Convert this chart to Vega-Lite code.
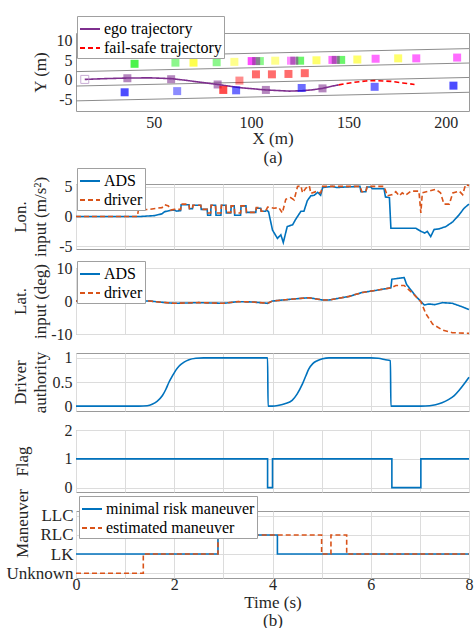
{
"$schema":"https://vega.github.io/schema/vega-lite/v6.json",
"background":"white",
"padding":{"left":5,"top":15,"right":6,"bottom":0},
"bounds":"flush",
"spacing":19,
"datasets":{
"spacer":[],
"lanes":[{"lane":1,"x":10,"y":5.8},{"lane":1,"x":212,"y":8.0},{"lane":2,"x":10,"y":2.1},{"lane":2,"x":212,"y":4.3},{"lane":3,"x":10,"y":-1.6},{"lane":3,"x":212,"y":0.6},{"lane":4,"x":10,"y":-5.4},{"lane":4,"x":212,"y":-3.2}],
"traj":[{"traj":"ego trajectory","x":14.5,"y":0.1},{"traj":"ego trajectory","x":25,"y":0.3},{"traj":"ego trajectory","x":36.4,"y":0.45},{"traj":"ego trajectory","x":48,"y":0.5},{"traj":"ego trajectory","x":58.9,"y":0.3},{"traj":"ego trajectory","x":66,"y":-0.1},{"traj":"ego trajectory","x":73.5,"y":-0.6},{"traj":"ego trajectory","x":82.8,"y":-1.2},{"traj":"ego trajectory","x":94,"y":-2.0},{"traj":"ego trajectory","x":107.6,"y":-2.6},{"traj":"ego trajectory","x":119.6,"y":-2.9},{"traj":"ego trajectory","x":126,"y":-2.8},{"traj":"ego trajectory","x":131,"y":-2.6},{"traj":"ego trajectory","x":136.7,"y":-2.2},{"traj":"ego trajectory","x":141,"y":-1.7},{"traj":"ego trajectory","x":145,"y":-1.3},
{"traj":"fail-safe trajectory","x":145,"y":-1.3},{"traj":"fail-safe trajectory","x":152,"y":-0.7},{"traj":"fail-safe trajectory","x":159,"y":-0.3},{"traj":"fail-safe trajectory","x":164,"y":-0.2},{"traj":"fail-safe trajectory","x":172,"y":-0.4},{"traj":"fail-safe trajectory","x":178,"y":-0.8},{"traj":"fail-safe trajectory","x":184,"y":-1.2}],
"veh":[{"v":"ego0","x":14.5,"y":0.1,"lvl":1},{"v":"ego","x":36.4,"y":0.4,"lvl":2},{"v":"ego","x":58.9,"y":0.15,"lvl":2},{"v":"ego","x":82.8,"y":-1.2,"lvl":2},{"v":"ego","x":107.6,"y":-2.6,"lvl":2},{"v":"ego","x":136.7,"y":-2.2,"lvl":2},
{"v":"blue","x":35,"y":-3.2,"lvl":3},{"v":"blue","x":62,"y":-2.9,"lvl":1},{"v":"blue","x":92.3,"y":-2.7,"lvl":2},{"v":"blue","x":126,"y":-2.1,"lvl":2},{"v":"blue","x":163.5,"y":-1.8,"lvl":2},{"v":"blue","x":204,"y":-1.5,"lvl":3},
{"v":"red","x":85.7,"y":-2.6,"lvl":3},{"v":"red","x":94,"y":-0.2,"lvl":1},{"v":"red","x":102.5,"y":1.4,"lvl":2},{"v":"red","x":110.7,"y":1.4,"lvl":2},{"v":"red","x":119.2,"y":1.5,"lvl":2},{"v":"red","x":127.6,"y":1.7,"lvl":2},
{"v":"green","x":40.1,"y":4.1,"lvl":3},{"v":"green","x":61.1,"y":4.4,"lvl":1},{"v":"yellow","x":70.4,"y":4.4,"lvl":3},{"v":"green","x":82.3,"y":4.5,"lvl":1},{"v":"yellow","x":91.4,"y":4.6,"lvl":1},{"v":"magenta","x":100.3,"y":4.8,"lvl":3},{"v":"green","x":104.5,"y":4.8,"lvl":1},{"v":"ego","x":102.6,"y":4.8,"lvl":2},{"v":"yellow","x":112.4,"y":4.9,"lvl":1},{"v":"magenta","x":120.5,"y":4.9,"lvl":1},{"v":"green","x":125.2,"y":4.9,"lvl":2},{"v":"ego","x":122.2,"y":4.9,"lvl":2},{"v":"yellow","x":133.6,"y":5.0,"lvl":2},{"v":"magenta","x":141.8,"y":5.1,"lvl":2},{"v":"green","x":146.3,"y":5.1,"lvl":2},{"v":"ego","x":143.5,"y":5.1,"lvl":2},{"v":"yellow","x":154.6,"y":5.2,"lvl":2},{"v":"magenta","x":164,"y":5.4,"lvl":2},{"v":"yellow","x":175.6,"y":5.5,"lvl":2},{"v":"magenta","x":184.9,"y":5.5,"lvl":2},{"v":"magenta","x":205.9,"y":5.7,"lvl":2}],
"lon":[{"s":"ADS","t":0,"v":0},{"s":"ADS","t":1.3,"v":0},{"s":"ADS","t":1.6,"v":0.15},{"s":"ADS","t":1.75,"v":0.45},{"s":"ADS","t":1.8,"v":0.8},{"s":"ADS","t":1.9,"v":1.0},{"s":"ADS","t":2.0,"v":1.1},{"s":"ADS","t":2.05,"v":0.9},{"s":"ADS","t":2.13,"v":1.0},{"s":"ADS","t":2.14,"v":2.0},{"s":"ADS","t":2.3,"v":2.0},{"s":"ADS","t":2.31,"v":1.3},{"s":"ADS","t":2.37,"v":1.3},{"s":"ADS","t":2.38,"v":1.9},{"s":"ADS","t":2.54,"v":1.9},{"s":"ADS","t":2.55,"v":1.2},{"s":"ADS","t":2.67,"v":1.2},{"s":"ADS","t":2.68,"v":0.2},{"s":"ADS","t":2.74,"v":0.2},{"s":"ADS","t":2.75,"v":1.9},{"s":"ADS","t":2.84,"v":1.9},{"s":"ADS","t":2.85,"v":0.2},{"s":"ADS","t":2.95,"v":0.2},{"s":"ADS","t":2.96,"v":1.9},{"s":"ADS","t":3.05,"v":1.9},{"s":"ADS","t":3.06,"v":0.6},{"s":"ADS","t":3.15,"v":0.6},{"s":"ADS","t":3.16,"v":1.8},{"s":"ADS","t":3.22,"v":1.8},{"s":"ADS","t":3.23,"v":0.2},{"s":"ADS","t":3.35,"v":0.2},{"s":"ADS","t":3.36,"v":1.8},{"s":"ADS","t":3.46,"v":1.8},{"s":"ADS","t":3.47,"v":0.7},{"s":"ADS","t":3.66,"v":0.7},{"s":"ADS","t":3.67,"v":1.4},{"s":"ADS","t":3.76,"v":1.4},{"s":"ADS","t":3.77,"v":0.9},{"s":"ADS","t":3.86,"v":0.9},{"s":"ADS","t":3.88,"v":1.1},{"s":"ADS","t":3.92,"v":0.8},{"s":"ADS","t":4.0,"v":-2.3},{"s":"ADS","t":4.1,"v":-3.7},{"s":"ADS","t":4.17,"v":-3.1},{"s":"ADS","t":4.22,"v":-4.4},{"s":"ADS","t":4.3,"v":-1.7},{"s":"ADS","t":4.41,"v":-1.4},{"s":"ADS","t":4.47,"v":-0.5},{"s":"ADS","t":4.58,"v":0.9},{"s":"ADS","t":4.64,"v":0.9},{"s":"ADS","t":4.71,"v":2.7},{"s":"ADS","t":4.78,"v":3.5},{"s":"ADS","t":4.85,"v":3.6},{"s":"ADS","t":4.92,"v":4.1},{"s":"ADS","t":4.98,"v":3.6},{"s":"ADS","t":5.02,"v":4.9},{"s":"ADS","t":5.22,"v":5.1},{"s":"ADS","t":5.3,"v":4.9},{"s":"ADS","t":5.5,"v":5.0},{"s":"ADS","t":5.78,"v":5.1},{"s":"ADS","t":5.8,"v":4.2},{"s":"ADS","t":5.9,"v":4.2},{"s":"ADS","t":5.92,"v":5.0},{"s":"ADS","t":6.0,"v":5.0},{"s":"ADS","t":6.03,"v":4.7},{"s":"ADS","t":6.27,"v":4.7},{"s":"ADS","t":6.3,"v":3.3},{"s":"ADS","t":6.38,"v":3.2},{"s":"ADS","t":6.41,"v":-2.0},{"s":"ADS","t":6.92,"v":-2.0},{"s":"ADS","t":7.02,"v":-2.5},{"s":"ADS","t":7.1,"v":-2.8},{"s":"ADS","t":7.15,"v":-2.5},{"s":"ADS","t":7.22,"v":-3.4},{"s":"ADS","t":7.29,"v":-2.2},{"s":"ADS","t":7.39,"v":-2.1},{"s":"ADS","t":7.53,"v":-1.7},{"s":"ADS","t":7.67,"v":-0.9},{"s":"ADS","t":7.8,"v":0.3},{"s":"ADS","t":7.9,"v":1.4},{"s":"ADS","t":8.0,"v":2.1},
{"s":"driver","t":0,"v":0},{"s":"driver","t":1.25,"v":0},{"s":"driver","t":1.27,"v":1.1},{"s":"driver","t":1.5,"v":1.2},{"s":"driver","t":1.65,"v":1.4},{"s":"driver","t":1.75,"v":1.5},{"s":"driver","t":1.8,"v":2.0},{"s":"driver","t":1.88,"v":1.8},{"s":"driver","t":1.93,"v":1.1},{"s":"driver","t":2.0,"v":1.2},{"s":"driver","t":2.13,"v":1.2},{"s":"driver","t":2.14,"v":2.1},{"s":"driver","t":2.3,"v":2.1},{"s":"driver","t":2.31,"v":1.3},{"s":"driver","t":2.37,"v":1.3},{"s":"driver","t":2.38,"v":1.9},{"s":"driver","t":2.54,"v":1.9},{"s":"driver","t":2.55,"v":1.2},{"s":"driver","t":2.67,"v":1.2},{"s":"driver","t":2.68,"v":0.6},{"s":"driver","t":2.74,"v":0.6},{"s":"driver","t":2.75,"v":1.9},{"s":"driver","t":2.84,"v":1.9},{"s":"driver","t":2.85,"v":0.6},{"s":"driver","t":2.95,"v":0.6},{"s":"driver","t":2.96,"v":1.9},{"s":"driver","t":3.05,"v":1.9},{"s":"driver","t":3.06,"v":0.7},{"s":"driver","t":3.15,"v":0.7},{"s":"driver","t":3.16,"v":1.8},{"s":"driver","t":3.22,"v":1.8},{"s":"driver","t":3.23,"v":0.6},{"s":"driver","t":3.35,"v":0.6},{"s":"driver","t":3.36,"v":1.8},{"s":"driver","t":3.46,"v":1.8},{"s":"driver","t":3.47,"v":0.7},{"s":"driver","t":3.66,"v":0.7},{"s":"driver","t":3.67,"v":1.5},{"s":"driver","t":3.76,"v":1.5},{"s":"driver","t":3.77,"v":0.9},{"s":"driver","t":3.86,"v":0.9},{"s":"driver","t":3.9,"v":1.6},{"s":"driver","t":4.03,"v":1.4},{"s":"driver","t":4.13,"v":1.5},{"s":"driver","t":4.2,"v":0.6},{"s":"driver","t":4.27,"v":2.9},{"s":"driver","t":4.37,"v":3.2},{"s":"driver","t":4.44,"v":2.8},{"s":"driver","t":4.51,"v":5.1},{"s":"driver","t":4.58,"v":5.2},{"s":"driver","t":4.61,"v":4.0},{"s":"driver","t":4.68,"v":4.8},{"s":"driver","t":4.75,"v":5.2},{"s":"driver","t":4.78,"v":3.9},{"s":"driver","t":4.88,"v":4.2},{"s":"driver","t":4.98,"v":4.0},{"s":"driver","t":5.02,"v":5.1},{"s":"driver","t":5.78,"v":5.1},{"s":"driver","t":5.82,"v":4.2},{"s":"driver","t":5.9,"v":4.2},{"s":"driver","t":5.93,"v":5.1},{"s":"driver","t":6.27,"v":5.1},{"s":"driver","t":6.34,"v":3.5},{"s":"driver","t":6.44,"v":3.7},{"s":"driver","t":6.51,"v":4.2},{"s":"driver","t":6.58,"v":3.5},{"s":"driver","t":6.64,"v":4.0},{"s":"driver","t":6.71,"v":3.6},{"s":"driver","t":6.82,"v":4.3},{"s":"driver","t":6.98,"v":4.3},{"s":"driver","t":7.02,"v":0.6},{"s":"driver","t":7.05,"v":4.0},{"s":"driver","t":7.19,"v":4.3},{"s":"driver","t":7.32,"v":4.6},{"s":"driver","t":7.42,"v":4.0},{"s":"driver","t":7.49,"v":2.1},{"s":"driver","t":7.6,"v":2.1},{"s":"driver","t":7.67,"v":4.0},{"s":"driver","t":7.8,"v":4.3},{"s":"driver","t":7.87,"v":3.7},{"s":"driver","t":7.93,"v":5.4},{"s":"driver","t":8.0,"v":5.2}],
"lat":[{"s":"ADS","t":0,"v":0},{"s":"ADS","t":1.5,"v":0},{"s":"ADS","t":1.75,"v":-0.4},{"s":"ADS","t":2.0,"v":-0.7},{"s":"ADS","t":2.5,"v":-0.5},{"s":"ADS","t":3.0,"v":-0.7},{"s":"ADS","t":3.3,"v":-0.2},{"s":"ADS","t":3.6,"v":-0.3},{"s":"ADS","t":3.9,"v":-0.7},{"s":"ADS","t":4.0,"v":0},{"s":"ADS","t":4.35,"v":0.5},{"s":"ADS","t":4.74,"v":1.0},{"s":"ADS","t":5.02,"v":0.3},{"s":"ADS","t":5.15,"v":0.3},{"s":"ADS","t":5.56,"v":1.4},{"s":"ADS","t":5.83,"v":2.6},{"s":"ADS","t":6.1,"v":3.2},{"s":"ADS","t":6.41,"v":4.0},{"s":"ADS","t":6.43,"v":6.6},{"s":"ADS","t":6.68,"v":7.1},{"s":"ADS","t":6.73,"v":5.0},{"s":"ADS","t":6.92,"v":1.4},{"s":"ADS","t":7.09,"v":-1.2},{"s":"ADS","t":7.19,"v":-0.9},{"s":"ADS","t":7.3,"v":-1.1},{"s":"ADS","t":7.46,"v":-0.5},{"s":"ADS","t":7.66,"v":-0.7},{"s":"ADS","t":7.87,"v":-1.8},{"s":"ADS","t":8.0,"v":-2.6},
{"s":"driver","t":0,"v":0},{"s":"driver","t":1.5,"v":0},{"s":"driver","t":1.75,"v":-0.4},{"s":"driver","t":2.0,"v":-0.7},{"s":"driver","t":2.5,"v":-0.5},{"s":"driver","t":3.0,"v":-0.7},{"s":"driver","t":3.3,"v":-0.2},{"s":"driver","t":3.6,"v":-0.3},{"s":"driver","t":3.9,"v":-0.7},{"s":"driver","t":4.0,"v":0},{"s":"driver","t":4.35,"v":0.5},{"s":"driver","t":4.74,"v":1.0},{"s":"driver","t":5.02,"v":0.3},{"s":"driver","t":5.15,"v":0.3},{"s":"driver","t":5.56,"v":1.4},{"s":"driver","t":5.83,"v":2.6},{"s":"driver","t":6.1,"v":3.2},{"s":"driver","t":6.41,"v":4.0},{"s":"driver","t":6.51,"v":4.7},{"s":"driver","t":6.68,"v":4.7},{"s":"driver","t":6.85,"v":2.4},{"s":"driver","t":7.02,"v":-0.2},{"s":"driver","t":7.12,"v":-3.8},{"s":"driver","t":7.26,"v":-7.0},{"s":"driver","t":7.46,"v":-8.8},{"s":"driver","t":7.66,"v":-9.6},{"s":"driver","t":8.0,"v":-9.8}],
"auth":[{"t":0,"v":0},{"t":1.28,"v":0},{"t":1.45,"v":0.01},{"t":1.55,"v":0.04},{"t":1.65,"v":0.1},{"t":1.76,"v":0.22},{"t":1.83,"v":0.35},{"t":1.89,"v":0.49},{"t":1.96,"v":0.62},{"t":2.03,"v":0.74},{"t":2.1,"v":0.83},{"t":2.2,"v":0.91},{"t":2.3,"v":0.96},{"t":2.44,"v":0.99},{"t":2.6,"v":1.0},{"t":3.9,"v":1.0},{"t":3.91,"v":0},{"t":4.0,"v":0.0},{"t":4.13,"v":0.02},{"t":4.25,"v":0.05},{"t":4.4,"v":0.12},{"t":4.5,"v":0.25},{"t":4.61,"v":0.46},{"t":4.68,"v":0.63},{"t":4.74,"v":0.77},{"t":4.82,"v":0.88},{"t":4.91,"v":0.94},{"t":5.02,"v":0.98},{"t":5.15,"v":1.0},{"t":6.0,"v":1.0},{"t":6.15,"v":0.99},{"t":6.3,"v":0.96},{"t":6.4,"v":0.94},{"t":6.41,"v":0},{"t":7.02,"v":0},{"t":7.2,"v":0.01},{"t":7.32,"v":0.03},{"t":7.45,"v":0.07},{"t":7.59,"v":0.14},{"t":7.7,"v":0.22},{"t":7.8,"v":0.33},{"t":7.9,"v":0.46},{"t":8.0,"v":0.6}],
"flag":[{"t":0,"v":1},{"t":3.9,"v":0},{"t":4.0,"v":1},{"t":6.43,"v":0},{"t":7.02,"v":1},{"t":8,"v":1}],
"man":[{"s":"minimal risk maneuver","t":0,"m":"LK"},{"s":"minimal risk maneuver","t":2.89,"m":"RLC"},{"s":"minimal risk maneuver","t":4.1,"m":"LK"},{"s":"minimal risk maneuver","t":8,"m":"LK"},
{"s":"estimated maneuver","t":0,"m":"Unknown"},{"s":"estimated maneuver","t":1.37,"m":"LK"},{"s":"estimated maneuver","t":2.89,"m":"RLC"},{"s":"estimated maneuver","t":5.0,"m":"LK"},{"s":"estimated maneuver","t":5.19,"m":"RLC"},{"s":"estimated maneuver","t":5.51,"m":"LK"},{"s":"estimated maneuver","t":8,"m":"LK"}]
},
"resolve":{"scale":{"stroke":"independent","strokeDash":"independent","fill":"independent","opacity":"independent"},"legend":{"stroke":"independent","strokeDash":"independent"}},
"vconcat":[
{"width":393,"height":78,
 "encoding":{
  "x":{"field":"x","type":"quantitative","scale":{"domain":[10,212],"nice":false,"zero":false},"axis":{"values":[50,100,150,200],"title":["X (m)","(a)"],"grid":false,"labelPadding":3,"titlePadding":0,"titleLineHeight":19,"labelFlush":false}},
  "y":{"field":"y","type":"quantitative","scale":{"domain":[-8,12],"nice":false,"zero":false},"axis":{"values":[-5,0,5,10],"labelExpr":"''+datum.value","title":"Y (m)","titleX":-27,"grid":false}}
 },
 "layer":[
  {"data":{"name":"lanes"},"mark":{"type":"line","color":"#8c8c8c","strokeWidth":1},"encoding":{"detail":{"field":"lane","type":"nominal"}}},
  {"data":{"name":"traj"},"mark":{"type":"line","strokeWidth":1.6},"encoding":{
    "stroke":{"field":"traj","type":"nominal","scale":{"domain":["ego trajectory","fail-safe trajectory"],"range":["#7E2F8E","#FF0000"]},"legend":{"title":null,"orient":"none","legendX":1,"legendY":-17,"rowPadding":0}},
    "strokeDash":{"field":"traj","type":"nominal","scale":{"domain":["ego trajectory","fail-safe trajectory"],"range":[[1,0],[5,3]]},"legend":{"title":null,"orient":"none","legendX":1,"legendY":-17,"rowPadding":0}}}},
  {"data":{"name":"veh"},"transform":[{"filter":"datum.v != 'ego0'"}],"mark":{"type":"point","shape":"square","filled":true,"size":64,"strokeWidth":0},"encoding":{
    "fill":{"field":"v","type":"nominal","scale":{"domain":["ego","blue","red","green","yellow","magenta"],"range":["#7E2F8E","#0000ff","#ff0000","#00ee00","#ffff00","#ff00ff"]},"legend":null},
    "opacity":{"field":"lvl","type":"ordinal","scale":{"domain":[1,2,3],"range":[0.45,0.7,1]},"legend":null}}},
  {"data":{"name":"veh"},"transform":[{"filter":"datum.v == 'ego0'"}],"mark":{"type":"point","shape":"square","filled":false,"size":64,"stroke":"#b48cc4","strokeWidth":1}}
 ]},
{"width":393,"height":35,"data":{"name":"spacer"},"mark":"rule","encoding":{},"view":{"stroke":null}},
{"width":393,"height":65,"data":{"name":"lon"},
 "encoding":{
  "x":{"field":"t","type":"quantitative","scale":{"domain":[0,8],"nice":false},"axis":{"values":[0,1,2,3,4,5,6,7,8],"labels":false,"title":null,"grid":true}},
  "y":{"field":"v","type":"quantitative","scale":{"domain":[-5.5,5.5],"nice":false,"zero":false},"axis":{"values":[-5,0,5],"labelExpr":"''+datum.value","title":["Lon.","input (m/s²)"],"titleX":-47,"titleLineHeight":20,"grid":true}},
  "stroke":{"field":"s","type":"nominal","scale":{"domain":["ADS","driver"],"range":["#0072BD","#D95319"]},"legend":{"title":null,"orient":"none","legendX":1,"legendY":-16}},
  "strokeDash":{"field":"s","type":"nominal","scale":{"domain":["ADS","driver"],"range":[[1,0],[5,3]]},"legend":{"title":null,"orient":"none","legendX":1,"legendY":-16}}
 },
 "layer":[
  {"transform":[{"filter":"datum.s == 'ADS'"}],"mark":{"type":"line","strokeWidth":1.6}},
  {"transform":[{"filter":"datum.s == 'driver'"}],"mark":{"type":"line","strokeWidth":1.6}}
 ]},
{"width":393,"height":66,"data":{"name":"lat"},
 "encoding":{
  "x":{"field":"t","type":"quantitative","scale":{"domain":[0,8],"nice":false},"axis":{"values":[0,1,2,3,4,5,6,7,8],"labels":false,"title":null,"grid":true}},
  "y":{"field":"v","type":"quantitative","scale":{"domain":[-10,10],"nice":false,"zero":false},"axis":{"values":[-10,0,10],"labelExpr":"''+datum.value","title":["Lat.","input (deg)"],"titleX":-47,"titleLineHeight":20,"grid":true}},
  "stroke":{"field":"s","type":"nominal","scale":{"domain":["ADS","driver"],"range":["#0072BD","#D95319"]},"legend":{"title":null,"orient":"none","legendX":1,"legendY":-7}},
  "strokeDash":{"field":"s","type":"nominal","scale":{"domain":["ADS","driver"],"range":[[1,0],[5,3]]},"legend":{"title":null,"orient":"none","legendX":1,"legendY":-7}}
 },
 "layer":[
  {"transform":[{"filter":"datum.s == 'ADS'"}],"mark":{"type":"line","strokeWidth":1.6}},
  {"transform":[{"filter":"datum.s == 'driver'"}],"mark":{"type":"line","strokeWidth":1.6}}
 ]},
{"width":393,"height":58,"data":{"name":"auth"},"mark":{"type":"line","interpolate":"monotone","color":"#0072BD","strokeWidth":1.6},
 "encoding":{
  "x":{"field":"t","type":"quantitative","scale":{"domain":[0,8],"nice":false},"axis":{"values":[0,1,2,3,4,5,6,7,8],"labels":false,"title":null,"grid":true}},
  "y":{"field":"v","type":"quantitative","scale":{"domain":[-0.1,1.1],"nice":false,"zero":false},"axis":{"values":[0,0.5,1],"labelExpr":"''+datum.value","title":["Driver","authority"],"titleX":-47,"titleLineHeight":20,"grid":true}}
 }},
{"width":393,"height":62,"data":{"name":"flag"},"mark":{"type":"line","interpolate":"step-after","color":"#0072BD","strokeWidth":1.6},
 "encoding":{
  "x":{"field":"t","type":"quantitative","scale":{"domain":[0,8],"nice":false},"axis":{"values":[0,1,2,3,4,5,6,7,8],"labels":false,"title":null,"grid":true}},
  "y":{"field":"v","type":"quantitative","scale":{"domain":[-0.15,2.0],"nice":false,"zero":false},"axis":{"values":[0,1,2],"title":"Flag","titleX":-45,"grid":true}}
 }},
{"width":393,"height":67,"data":{"name":"man"},
 "encoding":{
  "x":{"field":"t","type":"quantitative","scale":{"domain":[0,8],"nice":false},"axis":{"values":[0,1,2,3,4,5,6,7,8],"labelExpr":"datum.value % 2 == 0 ? datum.label : ''","labelFlush":false,"labelPadding":-2,"title":["Time (s)","(b)"],"titlePadding":2,"titleLineHeight":18,"grid":true}},
  "y":{"field":"m","type":"nominal","scale":{"type":"point","domain":["LLC","RLC","LK","Unknown"],"padding":0.25},"axis":{"title":"Maneuver","titleX":-45,"titleY":12,"labelFontSize":17,"labelPadding":3,"grid":true}},
  "order":{"field":"t","type":"quantitative"},
  "stroke":{"field":"s","type":"nominal","scale":{"domain":["minimal risk maneuver","estimated maneuver"],"range":["#0072BD","#D95319"]},"legend":{"title":null,"orient":"none","legendX":3,"legendY":-15,"rowPadding":0}},
  "strokeDash":{"field":"s","type":"nominal","scale":{"domain":["minimal risk maneuver","estimated maneuver"],"range":[[1,0],[5,3]]},"legend":{"title":null,"orient":"none","legendX":3,"legendY":-15,"rowPadding":0}}
 },
 "layer":[
  {"transform":[{"filter":"datum.s == 'minimal risk maneuver'"}],"mark":{"type":"line","interpolate":"step-after","strokeWidth":1.6}},
  {"transform":[{"filter":"datum.s == 'estimated maneuver'"}],"mark":{"type":"line","interpolate":"step-after","strokeWidth":1.6}}
 ]}
],
"config":{
 "font":"Liberation Serif",
 "view":{"stroke":"#9a9a9a"},
 "axis":{"labelFont":"Liberation Serif","labelFontSize":16,"labelColor":"#262626","titleFont":"Liberation Serif","titleFontSize":17,"titleFontWeight":"normal","titleColor":"#262626","gridColor":"#dcdcdc","domain":false,"ticks":false,"labelPadding":4},
 "legend":{"labelFont":"Liberation Serif","labelFontSize":16,"labelColor":"#000000","symbolType":"stroke","symbolSize":400,"symbolStrokeWidth":1.8,"strokeColor":"#a0a0a0","fillColor":"white","padding":2,"rowPadding":-2,"labelOffset":3,"labelLimit":300}
}
}
